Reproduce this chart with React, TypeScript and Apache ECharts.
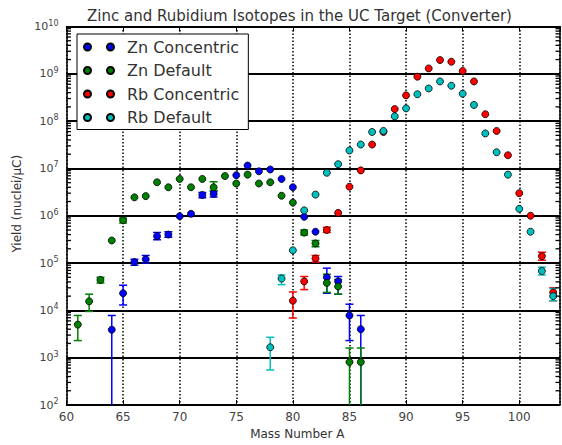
import React, { useEffect, useRef } from "react";
import * as echarts from "echarts";

// ---- data ----
const titleText = "Zinc and Rubidium Isotopes in the UC Target (Converter)";
const xName = "Mass Number A";
const yName = "Yield (nuclei/\u03bcC)";
const seriesNames = ["Zn Concentric", "Zn Default", "Rb Concentric", "Rb Default"];
const seriesColors = ["#0000ff", "#008000", "#ff0000", "#00bfbf"];

const znConcMass = [64, 65, 66, 67, 68, 69, 70, 71, 72, 73, 75, 76, 77, 78, 79, 80, 81, 82, 83, 84, 85, 86];
const znConcYield = [3900, 2.3e4, 1.05e5, 1.2e5, 3.7e5, 4.0e5, 9.8e5, 1.1e6, 2.75e6, 2.9e6, 7.2e6, 1.15e7, 8.7e6, 9.5e6, 6.0e6, 4.0e6, 9.5e5, 4.6e5, 5.0e4, 4.1e4, 7.8e3, 4.0e3];
const znConcLow: (number | null)[] = [1, 1.3e4, 9.0e4, 1.0e5, 3.1e5, 3.5e5, null, null, 2.4e6, 2.5e6, null, null, null, null, null, null, null, null, 2.3e4, 2.2e4, 2.3e3, 1];
const znConcHigh: (number | null)[] = [7800, 3.4e4, 1.2e5, 1.45e5, 4.4e5, 4.6e5, null, null, 3.1e6, 3.3e6, null, null, null, null, null, null, null, null, 7.8e4, 5.2e4, 1.35e4, 7.8e3];

const znDefMass = [61, 62, 63, 64, 65, 66, 67, 68, 69, 70, 71, 72, 73, 74, 75, 76, 77, 78, 79, 80, 81, 82, 83, 84, 85, 86];
const znDefYield = [5.0e3, 1.55e4, 4.4e4, 3.0e5, 8.0e5, 2.45e6, 2.6e6, 5.1e6, 4.0e6, 6.0e6, 4.0e6, 6.0e6, 4.0e6, 6.9e6, 4.8e6, 7.4e6, 4.8e6, 5.1e6, 2.65e6, 1.9e6, 4.4e5, 2.6e5, 3.8e4, 3.2e4, 810, 810];
const znDefLow: (number | null)[] = [2.3e3, 9.5e3, 3.8e4, null, 7.0e5, null, null, null, null, null, null, null, 3.4e6, null, null, null, null, null, null, null, 3.9e5, 2.2e5, 2.4e4, 2.2e4, 1, 1];
const znDefHigh: (number | null)[] = [7.8e3, 2.2e4, 5.0e4, null, 9.0e5, null, null, null, null, null, null, null, 5.2e6, null, null, null, null, null, null, null, 5.0e5, 3.0e5, 5.8e4, 4.5e4, 1.6e3, 1.6e3];

const rbConcMass = [80, 81, 82, 83, 84, 85, 86, 87, 88, 89, 90, 91, 92, 93, 94, 95, 96, 97, 98, 99, 100, 101, 102, 103];
const rbConcYield = [1.6e4, 4.1e4, 1.25e5, 5.0e5, 1.15e6, 4.1e6, 9.1e6, 3.2e7, 5.9e7, 1.8e8, 3.5e8, 8.7e8, 1.3e9, 1.95e9, 1.8e9, 1.15e9, 6.9e8, 1.4e8, 6.2e7, 1.9e7, 3.0e6, 1.0e6, 1.4e5, 2.4e4];
const rbConcLow: (number | null)[] = [6.9e3, 2.75e4, 1.05e5, 4.4e5, null, null, null, null, null, null, null, null, null, null, null, null, null, null, null, null, null, null, 1.15e5, 1.6e4];
const rbConcHigh: (number | null)[] = [2.45e4, 5.2e4, 1.45e5, 5.7e5, null, null, null, null, null, null, null, null, null, null, null, null, null, null, null, null, null, null, 1.7e5, 3.0e4];

const rbDefMass = [78, 79, 80, 81, 82, 83, 84, 85, 86, 87, 88, 89, 90, 91, 92, 93, 94, 95, 96, 97, 98, 99, 100, 101, 102, 103];
const rbDefYield = [1.66e3, 4.7e4, 1.86e5, 1.3e6, 2.8e6, 8.1e6, 1.23e7, 2.4e7, 3.2e7, 5.9e7, 6.2e7, 1.26e8, 1.86e8, 3.7e8, 4.9e8, 6.9e8, 5.6e8, 3.8e8, 2.2e8, 5.5e7, 2.2e7, 7.4e6, 1.4e6, 4.6e5, 6.8e4, 2.0e4];
const rbDefLow: (number | null)[] = [550, 3.5e4, null, null, null, null, null, null, null, null, null, null, null, null, null, null, null, null, null, null, null, null, null, null, 5.6e4, 1.6e4];
const rbDefHigh: (number | null)[] = [2.7e3, 5.6e4, null, null, null, null, null, null, null, null, null, null, null, null, null, null, null, null, null, null, null, null, null, null, 8.2e4, 2.9e4];

const allMass = [znConcMass, znDefMass, rbConcMass, rbDefMass];
const allYield = [znConcYield, znDefYield, rbConcYield, rbDefYield];
const allLow = [znConcLow, znDefLow, rbConcLow, rbDefLow];
const allHigh = [znConcHigh, znDefHigh, rbConcHigh, rbDefHigh];

const X_MIN = 60;
const X_MAX = 103.6;
const Y_MIN = 1e2;
const Y_MAX = 1e10;

// minor tick positions for the log axis (2..9 within each decade)
const minorTickValues: number[] = [];
for (let e = 2; e < 10; e++) {
  for (let k = 2; k <= 9; k++) minorTickValues.push(k * Math.pow(10, e));
}

const legendIcon =
  "path://M3.5,0A3.5,3.5,0,1,1,3.5,7A3.5,3.5,0,1,1,3.5,0ZM26.5,0A3.5,3.5,0,1,1,26.5,7A3.5,3.5,0,1,1,26.5,0Z";

const FONT = "DejaVu Sans";

function buildSeries(): any[] {
  const out: any[] = [];
  seriesNames.forEach((name, s) => {
    const color = seriesColors[s];
    const mass = allMass[s];
    const errData: number[][] = [];
    mass.forEach((m, i) => {
      const lo = allLow[s][i];
      const hi = allHigh[s][i];
      if (lo != null && hi != null) errData.push([m, lo, hi]);
    });
    out.push({
      type: "custom",
      name: name + " error",
      data: errData,
      clip: true,
      encode: { x: 0, y: [1, 2] },
      renderItem: (params: any, api: any) => {
        const x = api.value(0);
        const p1 = api.coord([x, api.value(1)]);
        const p2 = api.coord([x, api.value(2)]);
        const w = 4;
        const st = { stroke: color, lineWidth: 1.5 };
        return {
          type: "group",
          children: [
            { type: "line", shape: { x1: p1[0], y1: p1[1], x2: p2[0], y2: p2[1] }, style: st },
            { type: "line", shape: { x1: p1[0] - w, y1: p1[1], x2: p1[0] + w, y2: p1[1] }, style: st },
            { type: "line", shape: { x1: p2[0] - w, y1: p2[1], x2: p2[0] + w, y2: p2[1] }, style: st },
          ],
        };
      },
    });
    out.push({
      type: "scatter",
      name,
      data: mass.map((m, i) => [m, allYield[s][i]]),
      symbol: "circle",
      symbolSize: 7,
      itemStyle: { color, borderColor: "#000", borderWidth: 0.8, opacity: 1 },
    });
  });
  // minor ticks of the log y axis on both sides, placed through the y scale
  out.push({
    type: "custom",
    name: "minor ticks",
    silent: true,
    clip: false,
    z: 5,
    data: minorTickValues.map((v) => [X_MIN, v]),
    encode: { x: 0, y: 1 },
    renderItem: (params: any, api: any) => {
      const pL = api.coord([X_MIN, api.value(1)]);
      const pR = api.coord([X_MAX, api.value(1)]);
      const st = { stroke: "#000", lineWidth: 1.3 };
      return {
        type: "group",
        children: [
          { type: "line", shape: { x1: pL[0], y1: pL[1], x2: pL[0] + 4.5, y2: pL[1] }, style: st },
          { type: "line", shape: { x1: pR[0] - 4.5, y1: pR[1], x2: pR[0], y2: pR[1] }, style: st },
        ],
      };
    },
  });
  return out;
}

export default function App() {
  const ref = useRef<HTMLDivElement>(null);
  useEffect(() => {
    if (!ref.current) return;
    const chart = echarts.init(ref.current, undefined, { renderer: "svg" });
    const axisLine = { show: true, lineStyle: { color: "#000", width: 1.5 } };
    const labelColor = "#444";
    const yLabel = {
      fontFamily: FONT,
      color: labelColor,
      fontSize: 11,
      formatter: (v: number) => "{b|10}{s|" + Math.round(Math.log10(v)) + "}",
      rich: {
        b: { fontSize: 11, fontFamily: FONT, color: labelColor },
        s: { fontSize: 8, fontFamily: FONT, color: labelColor, padding: [0, 0, 7, 0] },
      },
    };
    chart.setOption({
      animation: false,
      backgroundColor: "#fff",
      title: {
        text: titleText,
        left: 87,
        top: 8,
        padding: 0,
        textStyle: { fontFamily: FONT, fontSize: 15, fontWeight: "normal", color: "#333" },
      },
      legend: {
        data: seriesNames,
        orient: "vertical",
        left: 77,
        top: 34,
        padding: [5, 9, 4, 6],
        itemGap: 7.5,
        itemWidth: 30,
        itemHeight: 7,
        icon: legendIcon,
        borderColor: "#000",
        borderWidth: 1,
        backgroundColor: "#fff",
        z: 10,
        textStyle: { fontFamily: FONT, fontSize: 16, lineHeight: 16, color: "#333", padding: [0, 0, 0, 8] },
      },
      grid: { left: 66.5, top: 26.5, width: 493.5, height: 386.5 },
      xAxis: [
        {
          type: "value",
          min: X_MIN,
          max: X_MAX,
          interval: 5,
          position: "bottom",
          name: xName,
          nameLocation: "middle",
          nameGap: 23,
          nameTextStyle: { fontFamily: FONT, fontSize: 12, color: "#333", padding: [0, 32, 0, 0] },
          axisLine,
          axisTick: { show: true, inside: true, length: 5, lineStyle: { color: "#000" } },
          axisLabel: {
            fontFamily: FONT,
            fontSize: 12,
            color: labelColor,
            margin: 6,
            showMaxLabel: false,
            formatter: (v: number) => (v % 5 === 0 ? String(v) : ""),
          },
          splitLine: { show: true, lineStyle: { color: "#000", width: 1.5, type: [1.5, 2] } },
        },
        {
          type: "value",
          min: X_MIN,
          max: X_MAX,
          interval: 5,
          position: "top",
          axisLine,
          axisTick: { show: true, inside: true, length: 5, lineStyle: { color: "#000" } },
          axisLabel: { show: false },
          splitLine: { show: false },
        },
      ],
      yAxis: [
        {
          type: "log",
          logBase: 10,
          min: Y_MIN,
          max: Y_MAX,
          splitNumber: 8,
          position: "left",
          name: yName,
          nameLocation: "middle",
          nameGap: 40,
          nameTextStyle: { fontFamily: FONT, fontSize: 12, color: "#333", padding: [0, 0, 0, 24] },
          axisLine,
          axisTick: { show: true, inside: true, length: 6, lineStyle: { color: "#000" } },
          axisLabel: yLabel,
          splitLine: { show: true, lineStyle: { color: "#000", width: 1.8 } },
        },
        {
          type: "log",
          logBase: 10,
          min: Y_MIN,
          max: Y_MAX,
          splitNumber: 8,
          position: "right",
          axisLine,
          axisTick: { show: true, inside: true, length: 6, lineStyle: { color: "#000" } },
          axisLabel: { show: false },
          splitLine: { show: false },
        },
      ],
      series: buildSeries(),
    });
    return () => chart.dispose();
  }, []);
  return <div ref={ref} style={{ position: "fixed", left: 0, top: 0, width: 562, height: 445 }} />;
}
